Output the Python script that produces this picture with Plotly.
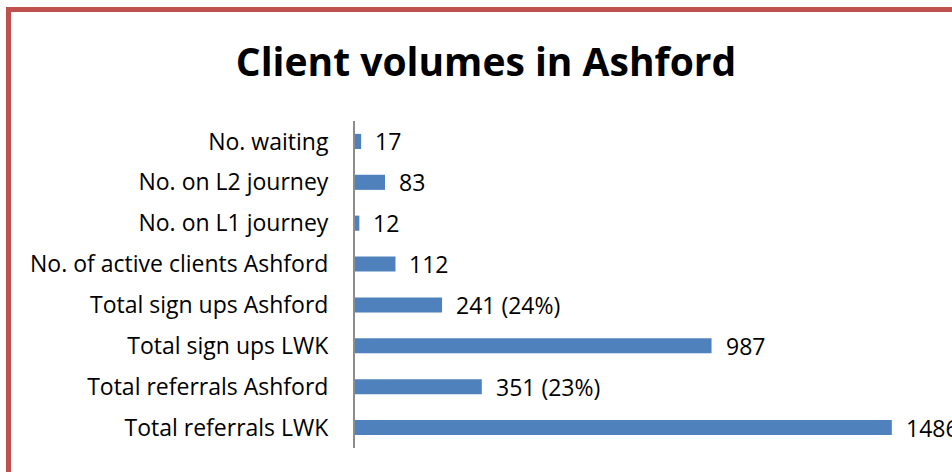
import plotly.graph_objects as go

categories = ["No. waiting", "No. on L2 journey", "No. on L1 journey",
              "No. of active clients Ashford", "Total sign ups Ashford",
              "Total sign ups LWK", "Total referrals Ashford", "Total referrals LWK"]
values = [17, 83, 12, 112, 241, 987, 351, 1486]
labels = ["17", "83", "12", "112", "241 (24%)", "987", "351 (23%)", "1486"]

FONT = "Open Sans"
W, H = 952, 472
L, R, T, B = 355, 19, 121, 24

fig = go.Figure()
fig.add_trace(go.Bar(
    x=values, y=categories, orientation="h",
    marker=dict(color="#4F81BD", line=dict(width=0)),
    hoverinfo="skip",
))
for v, c, t in zip(values, categories, labels):
    fig.add_annotation(x=v, y=c, text=t, showarrow=False, xanchor="left",
                       xshift=12, font=dict(family=FONT, size=23, color="#000000"))

pw = W - L - R
ph = H - T - B
fig.add_shape(type="rect", xref="paper", yref="paper",
              x0=(8.5 - L) / pw, x1=1.5, y0=-0.3, y1=(H - B - 9.5) / ph,
              line=dict(color="#C0504D", width=5), layer="below")

fig.update_layout(
    width=W, height=H,
    margin=dict(l=L, r=R, t=T, b=B),
    paper_bgcolor="white", plot_bgcolor="white",
    bargap=0.63,
    showlegend=False,
    title=dict(text="<b>Client volumes in Ashford</b>", x=486 / W, xanchor="center",
               y=1 - 62 / H, yanchor="middle",
               font=dict(family=FONT, size=39, color="#000000")),
    xaxis=dict(range=[0, 1600], visible=False, fixedrange=True),
    yaxis=dict(autorange="reversed", showline=True, linecolor="#8C8C8C", linewidth=2,
               showgrid=False, ticks="", ticklabelstandoff=20,
               tickfont=dict(family=FONT, size=23, color="#000000")),
)
fig.write_html("out.html")
